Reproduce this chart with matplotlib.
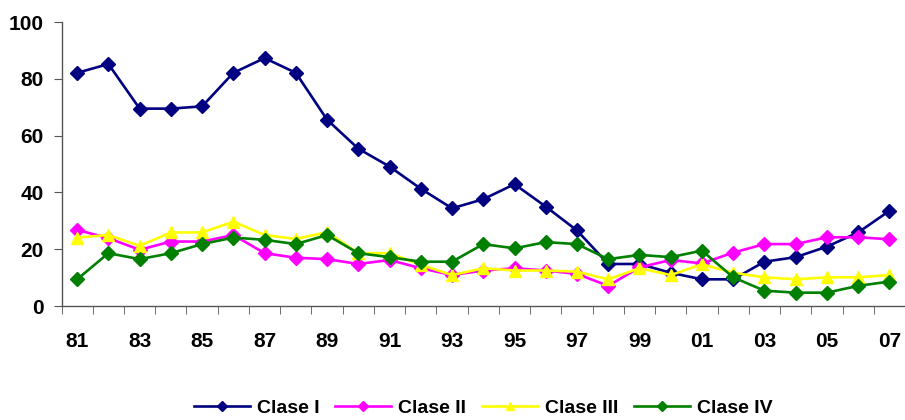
import matplotlib
matplotlib.use("Agg")
import matplotlib.pyplot as plt
import numpy as np

plt.rcParams["font.family"] = ["Liberation Sans", "DejaVu Sans"]
plt.rcParams["font.weight"] = "bold"

years = ["81", "82", "83", "84", "85", "86", "87", "88", "89", "90", "91", "92", "93", "94",
         "95", "96", "97", "98", "99", "00", "01", "02", "03", "04", "05", "06", "07"]

clase_1 = [82.1, 85.2, 69.5, 69.5, 70.3, 82.1, 87.3, 82.1, 65.6, 55.4, 49.1, 41.3, 34.4, 37.6,
           42.9, 35.0, 26.6, 14.8, 14.8, 11.7, 9.4, 9.4, 15.6, 17.2, 20.9, 25.9, 33.5]
clase_2 = [26.8, 23.9, 19.8, 22.7, 22.7, 25.0, 18.6, 17.0, 16.5, 14.8, 16.2, 13.3, 10.9, 12.5,
           13.3, 12.5, 11.3, 7.1, 13.6, 16.2, 15.0, 18.8, 21.8, 21.8, 24.2, 24.2, 23.5]
clase_3 = [24.1, 25.0, 21.2, 25.9, 25.9, 29.7, 25.0, 23.6, 26.0, 18.6, 18.6, 14.5, 10.9, 13.3,
           12.5, 12.5, 12.1, 9.4, 13.3, 10.9, 14.7, 11.7, 10.1, 9.4, 10.1, 10.1, 10.9]
clase_4 = [9.4, 18.6, 16.5, 18.6, 21.8, 24.1, 23.3, 21.8, 25.0, 18.6, 17.2, 15.6, 15.6, 21.8,
           20.3, 22.5, 21.8, 16.5, 18.0, 17.2, 19.5, 10.1, 5.4, 4.7, 4.7, 7.1, 8.6]

series = [
    ("Clase I", clase_1, "#000080", "D"),
    ("Clase II", clase_2, "#ff00ff", "D"),
    ("Clase III", clase_3, "#ffff00", "^"),
    ("Clase IV", clase_4, "#008000", "D"),
]

fig = plt.figure(figsize=(9.05, 4.2), dpi=100)
ax = fig.add_axes([0.068, 0.2714, 0.932, 0.6762])

x = np.arange(len(years))
for name, vals, col, mk in series:
    ax.plot(x, vals, color=col, lw=1.9, marker=mk, ms=7 if mk == "D" else 8.5,
            mec=col, mfc=col, label=name)

ax.set_xlim(-0.5, len(years) - 0.5)
ax.set_ylim(0, 100)
ax.set_yticks(range(0, 101, 20))
ax.set_xticks(x[::2])
ax.set_xticklabels(years[::2])
ax.set_xticks(np.arange(-0.5, len(years), 1), minor=True)

for s in ("top", "right"):
    ax.spines[s].set_visible(False)
for s in ("left", "bottom"):
    ax.spines[s].set_color("#555555")
    ax.spines[s].set_linewidth(1.0)

ax.tick_params(axis="x", which="major", length=0, pad=19, labelsize=15)
ax.tick_params(axis="x", which="minor", length=6, color="#555555", direction="out")
ax.tick_params(axis="y", length=6, color="#555555", direction="out", pad=7, labelsize=15)

ax.legend(loc="center", bbox_to_anchor=(0.5, -0.36), ncol=4, frameon=False,
          fontsize=14, handlelength=2.9, handletextpad=0.35, columnspacing=0.8,
          markerscale=0.7)

fig.savefig("out.png", dpi=100, facecolor="white")
